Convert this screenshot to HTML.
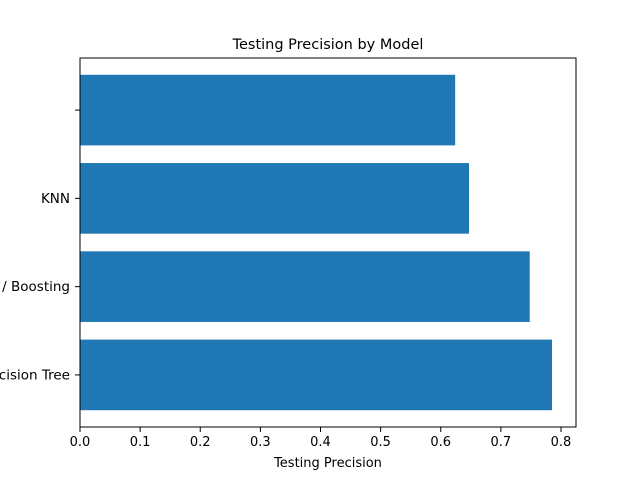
<!DOCTYPE html>
<html><head><meta charset="utf-8"><style>
body{margin:0;background:#fff}
svg{display:block;font-family:"DejaVu Sans","Liberation Sans",sans-serif}
</style></head><body>
<svg width="640" height="480" viewBox="0 0 640 480">
<rect width="640" height="480" fill="#fff"/>
<text x="328" y="49" font-size="14.5" text-anchor="middle" fill="#000">Testing Precision by Model</text>
<g id="bars"></g>
<g id="xt"></g>
<g id="yt"></g>
<rect x="80" y="58" width="496" height="369" fill="none" stroke="#000" stroke-width="1"/>
<text x="328" y="467" font-size="13" text-anchor="middle">Testing Precision</text>
</svg>
<script>
const categories=["Decision Tree","Gradient / Boosting","KNN",""];
const values=[0.785,0.748,0.647,0.624];
const xTicks=[0,0.1,0.2,0.3,0.4,0.5,0.6,0.7,0.8];
const xTickLabels=["0.0","0.1","0.2","0.3","0.4","0.5","0.6","0.7","0.8"];
const ns="http://www.w3.org/2000/svg";
const X0=80,XS=601.25;
const xPos=v=>X0+v*XS;
const yMin=-0.59,yMax=3.59,plotTop=58,plotBot=427;
const yPos=v=>plotBot-(v-yMin)/(yMax-yMin)*(plotBot-plotTop);
const bh=0.8*(plotBot-plotTop)/(yMax-yMin);
function mk(t,a,p){const e=document.createElementNS(ns,t);for(const k in a)e.setAttribute(k,a[k]);p.appendChild(e);return e;}
const barsG=document.getElementById('bars'),xtG=document.getElementById('xt'),ytG=document.getElementById('yt');
values.forEach((v,i)=>{
 const r=mk('rect',{x:xPos(0),y:yPos(i)-bh/2,width:xPos(v)-xPos(0),height:bh,fill:'#1f77b4'},barsG);
 
 
 const l=mk('line',{x1:75,x2:80,y1:yPos(i),y2:yPos(i),stroke:'#000'},ytG);
 
 
 const t=mk('text',{x:70,y:yPos(i)+4.5,'font-size':13.5,'text-anchor':'end'},ytG);
 t.textContent=categories[i];
 
 
});
xTicks.forEach((v,i)=>{
 const l=mk('line',{x1:xPos(v),x2:xPos(v),y1:427,y2:432,stroke:'#000'},xtG);
 
 
 const t=mk('text',{x:xPos(v),y:446,'font-size':13,'text-anchor':'middle'},xtG);
 t.textContent=xTickLabels[i];
 
 
});
</script>
</body></html>
